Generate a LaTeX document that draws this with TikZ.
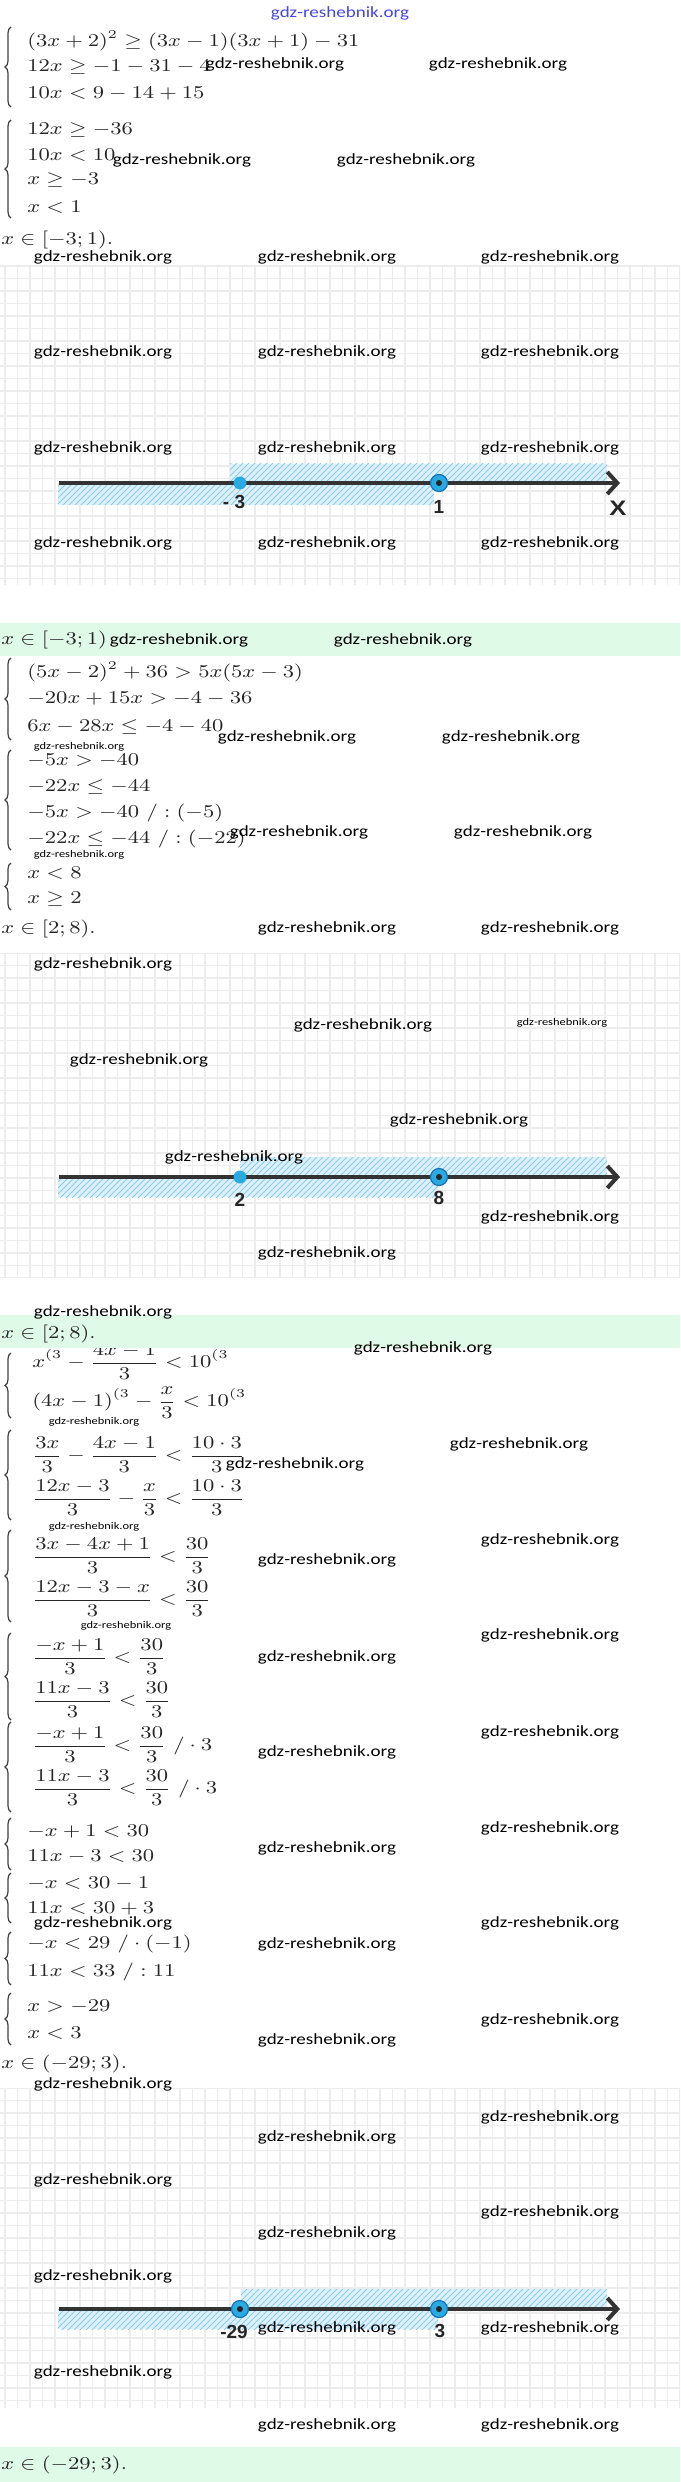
\documentclass[tikz,border=0pt]{standalone}
\usepackage{amsmath,amssymb}
\usepackage{graphicx}
\usepackage{fontspec}
\newfontfamily\wmfont{Carlito}
\newfontfamily\lblfont{Liberation Sans}
\usetikzlibrary{%
  arrows.meta,%
  patterns,% hatched bands
  decorations.pathreplacing% wg. braces
}
\definecolor{barmint}{RGB}{224,250,232}
\definecolor{ptblue}{RGB}{41,171,226}
\definecolor{ptring}{RGB}{22,112,180}
\definecolor{hatchfill}{RGB}{222,241,251}
\definecolor{hatchline}{RGB}{140,205,238}
\definecolor{wmblue}{RGB}{70,70,225}
\definecolor{gridgray}{RGB}{236,236,236}
\newcommand{\hst}[1]{\scalebox{1.22}[1]{#1}}
\newcommand{\eqn}[1]{\hst{$\displaystyle #1$}}

\begin{document}
\begin{tikzpicture}[
  x=0.5pt, y=-0.5pt,
  eq/.style={anchor=west, inner sep=0pt, text=black!85, font=\fontsize{8.8pt}{10pt}\selectfont},
  wmark/.style={inner sep=0pt, text=black, font=\wmfont\fontsize{7.8pt}{9pt}\selectfont},
  wmsmall/.style={inner sep=0pt, text=black, font=\wmfont\fontsize{5.1pt}{6pt}\selectfont},
  tklabel/.style={inner sep=0pt, text=black!85, font=\lblfont\bfseries\fontsize{9.5pt}{11pt}\selectfont},
  fullpt/.style={circle, inner sep=0pt, minimum size=6.5pt, fill=ptblue},
  openpt/.style={circle, inner sep=0pt, minimum size=8.5pt, fill=ptblue, draw=ptring, line width=0.6pt},
  axisline/.style={line width=2pt, black!80, -{Straight Barb[length=5pt,width=11pt]}},
  syst/.style={decorate, decoration={brace, amplitude=3pt}, line width=0.6pt, black!75},
  gridline/.style={gridgray, line width=0.6pt},
  ansbar/.style={fill=barmint}
]
\useasboundingbox (0,0) rectangle (680,2482);
\fill[white] (0,0) rectangle (680,2482);

% graph paper behind the three number lines
\foreach \gtop/\gbot in {266/585, 953/1277, 2088/2408} {
  \begin{scope}
    \clip (0,\gtop) rectangle (680,\gbot);
    \foreach \i in {0,...,55} \draw[gridline] ({5+12.5*\i},\gtop) -- ({5+12.5*\i},\gbot);
    \foreach \i in {0,...,26} \draw[gridline] (0,{\gtop+12.5*\i}) -- (680,{\gtop+12.5*\i});
  \end{scope}
}

% hatched bands
\foreach \ya/\yb/\yc/\ua/\lb in {464/483/505/230/434, 1157/1177/1197/240/438, 2289/2309/2329/241/438} {
  \fill[hatchfill] (\ua,\ya) rectangle (607,\yb);
  \fill[pattern=north east lines, pattern color=hatchline] (\ua,\ya) rectangle (607,\yb);
  \fill[hatchfill] (58,\yb) rectangle (\lb,\yc);
  \fill[pattern=north east lines, pattern color=hatchline] (58,\yb) rectangle (\lb,\yc);
}

% number line 1
\coordinate (axL1) at (59,483);
\coordinate (axR1) at (620,483);
\draw[axisline] (axL1) -- (axR1);
\node[fullpt] (ptA1) at (240,483) {};
\node[openpt] (ptB1) at (439,483) {};
\fill[black!85] (ptB1) circle (1.5pt);
\node[tklabel, anchor=east] (lbA1) at (245.5,502) {- 3};
\node[tklabel] (lbB1) at (439,507) {1};
\node[tklabel, font=\lblfont\bfseries\fontsize{10.5pt}{12pt}\selectfont] (lbX1) at (618,508) {\hst{X}};

% number line 2
\coordinate (axL2) at (59,1177);
\coordinate (axR2) at (620,1177);
\draw[axisline] (axL2) -- (axR2);
\node[fullpt] (ptA2) at (240,1177) {};
\node[openpt] (ptB2) at (439,1177) {};
\fill[black!85] (ptB2) circle (1.5pt);
\node[tklabel] (lbA2) at (240,1200) {2};
\node[tklabel] (lbB2) at (439,1198) {8};

% number line 3
\coordinate (axL3) at (59,2309);
\coordinate (axR3) at (620,2309);
\draw[axisline] (axL3) -- (axR3);
\node[openpt] (ptA3) at (240,2309) {};
\fill[black!85] (ptA3) circle (1.5pt);
\node[openpt] (ptB3) at (439,2309) {};
\fill[black!85] (ptB3) circle (1.5pt);
\node[tklabel] (lbA3) at (234,2332) {-29};
\node[tklabel] (lbB3) at (440,2331) {3};

% first system
\node[eq] (sa1) at (27,41) {\eqn{(3x+2)^2\geq(3x-1)(3x+1)-31}};
\node[eq] (sa2) at (27,67) {\eqn{12x\geq-1-31-4}};
\node[eq] (sa3) at (27,94) {\eqn{10x<9-14+15}};
\draw[syst] (11,107) -- (11,27);
\node[eq] (sa4) at (27,130) {\eqn{12x\geq-36}};
\node[eq] (sa5) at (27,155) {\eqn{10x<10}};
\node[eq] (sa6) at (27,180) {\eqn{x\geq-3}};
\node[eq] (sa7) at (27,207) {\eqn{x<1}};
\draw[syst] (11,218) -- (11,120);
\node[eq] (sa8) at (1,240) {\eqn{x\in[-3;1).}};

% second system
\node[eq] (sb1) at (27,672) {\eqn{(5x-2)^2+36>5x(5x-3)}};
\node[eq] (sb2) at (27,699) {\eqn{-20x+15x>-4-36}};
\node[eq] (sb3) at (27,727) {\eqn{6x-28x\leq-4-40}};
\draw[syst] (11,740) -- (11,658);
\node[eq] (sb4) at (27,761) {\eqn{-5x>-40}};
\node[eq] (sb5) at (27,787) {\eqn{-22x\leq-44}};
\node[eq] (sb6) at (27,813) {\eqn{-5x>-40\ /:(-5)}};
\node[eq] (sb7) at (27,839) {\eqn{-22x\leq-44\ /:(-22)}};
\draw[syst] (11,850) -- (11,750);
\node[eq] (sb8) at (27,873) {\eqn{x<8}};
\node[eq] (sb9) at (27,899) {\eqn{x\geq2}};
\draw[syst] (11,910) -- (11,863);
\node[eq] (sb10) at (1,929) {\eqn{x\in[2;8).}};

% third system
\node[eq] (sc1) at (32,1362) {\eqn{x^{(3}-\frac{4x-1}{3}<10^{(3}}};
\node[eq] (sc2) at (32,1403) {\eqn{(4x-1)^{(3}-\frac{x}{3}<10^{(3}}};
\draw[syst] (11,1418) -- (11,1353);
\node[eq] (sc3) at (32,1455) {\eqn{\frac{3x}{3}-\frac{4x-1}{3}<\frac{10\cdot3}{3}}};
\node[eq] (sc4) at (32,1498) {\eqn{\frac{12x-3}{3}-\frac{x}{3}<\frac{10\cdot3}{3}}};
\draw[syst] (11,1520) -- (11,1430);
\node[eq] (sc5) at (32,1556) {\eqn{\frac{3x-4x+1}{3}<\frac{30}{3}}};
\node[eq] (sc6) at (32,1599) {\eqn{\frac{12x-3-x}{3}<\frac{30}{3}}};
\draw[syst] (11,1622) -- (11,1530);
\node[eq] (sc7) at (32,1657) {\eqn{\frac{-x+1}{3}<\frac{30}{3}}};
\node[eq] (sc8) at (32,1700) {\eqn{\frac{11x-3}{3}<\frac{30}{3}}};
\draw[syst] (11,1720) -- (11,1633);
\node[eq] (sc9) at (32,1745) {\eqn{\frac{-x+1}{3}<\frac{30}{3}\ /\cdot3}};
\node[eq] (sc10) at (32,1788) {\eqn{\frac{11x-3}{3}<\frac{30}{3}\ /\cdot3}};
\draw[syst] (11,1812) -- (11,1722);
\node[eq] (sc11) at (27,1832) {\eqn{-x+1<30}};
\node[eq] (sc12) at (27,1857) {\eqn{11x-3<30}};
\draw[syst] (11,1870) -- (11,1818);
\node[eq] (sc13) at (27,1884) {\eqn{-x<30-1}};
\node[eq] (sc14) at (27,1909) {\eqn{11x<30+3}};
\draw[syst] (11,1923) -- (11,1873);
\node[eq] (sc15) at (27,1944) {\eqn{-x<29\ /\cdot(-1)}};
\node[eq] (sc16) at (27,1972) {\eqn{11x<33\ /:11}};
\draw[syst] (11,1985) -- (11,1932);
\node[eq] (sc17) at (27,2007) {\eqn{x>-29}};
\node[eq] (sc18) at (27,2033) {\eqn{x<3}};
\draw[syst] (11,2045) -- (11,1993);
\node[eq] (sc19) at (1,2064) {\eqn{x\in(-29;3).}};

% answer bars
\fill[ansbar] (0,623) rectangle (680,656);
\node[eq] (ans1) at (1,640) {\eqn{x\in[-3;1)}};
\fill[ansbar] (0,1315) rectangle (680,1348);
\node[eq] (ans2) at (1,1334) {\eqn{x\in[2;8).}};
\fill[ansbar] (0,2447) rectangle (680,2482);
\node[eq] (ans3) at (1,2465) {\eqn{x\in(-29;3).}};

% watermarks
\node[wmark, text=wmblue] (wmtop) at (340,13) {\hst{gdz-reshebnik.org}};
\foreach \wx/\wy [count=\k] in {275/64, 498/64, 182/160, 406/160,
    103/257, 327/257, 550/257, 103/352, 327/352, 550/352,
    103/448, 327/448, 550/448, 103/543, 327/543, 550/543,
    179/640, 403/640, 287/737, 511/737, 299/832, 523/832,
    327/928, 550/928, 103/964, 363/1025, 139/1060, 459/1120,
    234/1157, 550/1217, 327/1253, 103/1312, 423/1348, 519/1444,
    295/1464, 550/1540, 327/1560, 550/1635, 327/1657, 550/1732,
    327/1752, 550/1828, 327/1848, 103/1923, 550/1923, 327/1944,
    550/2020, 327/2040, 103/2084, 550/2117, 327/2137, 103/2180,
    550/2212, 327/2233, 103/2276, 327/2328, 550/2328, 103/2372,
    327/2425, 550/2425}
  \node[wmark] (wm\k) at (\wx,\wy) {\hst{gdz-reshebnik.org}};
\foreach \wx/\wy [count=\k] in {79/747, 79/855, 562/1023, 94/1422, 94/1527, 126/1626}
  \node[wmsmall] (wms\k) at (\wx,\wy) {\hst{gdz-reshebnik.org}};
\end{tikzpicture}
\end{document}
